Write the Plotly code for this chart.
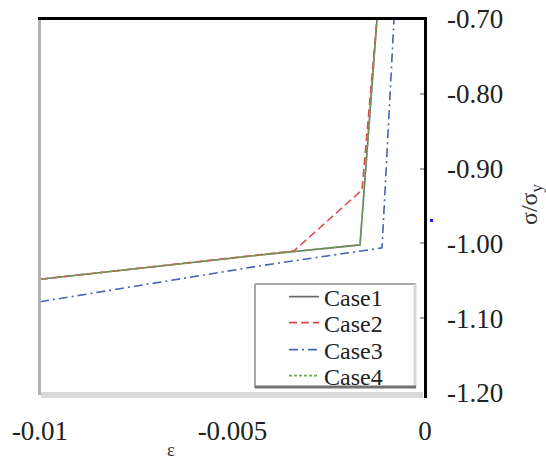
import plotly.graph_objects as go

# ---- data ----
case_names = ["Case1", "Case2", "Case3", "Case4"]

case1_eps = [-0.01, -0.004286, -0.001688, -0.001247]
case1_sig = [-1.048, -1.0155, -1.002, -0.70]

case2_eps = [-0.01, -0.004286, -0.003403, -0.001636, -0.001247]
case2_sig = [-1.048, -1.0155, -1.010, -0.9286, -0.70]

case3_eps = [-0.01, -0.004286, -0.001117, -0.000805]
case3_sig = [-1.078, -1.030, -1.006, -0.70]

case4_eps = [-0.01, -0.004286, -0.001688, -0.001247]
case4_sig = [-1.048, -1.0155, -1.002, -0.70]

x_tickvals = [-0.01, -0.005, 0]
x_ticktext = ["-0.01", "-0.005", "0"]
y_tickvals = [-0.70, -0.80, -0.90, -1.00, -1.10, -1.20]
y_ticktext = ["-0.70", "-0.80", "-0.90", "-1.00", "-1.10", "-1.20"]

# ---- layout geometry (pixels) ----
W, H = 546, 463
PL, PR, PT, PB = 40, 425, 19, 393


def px_x(px):
    return (px - PL) / (PR - PL)


def px_y(py):
    return (PB - py) / (PB - PT)


FONT = "Liberation Serif, Times New Roman, serif"

series = [
    (case1_eps, case1_sig, "#6e6e6e", "solid", "legend"),
    (case2_eps, case2_sig, "#dc4c4c", "8px,4px", "legend2"),
    (case3_eps, case3_sig, "#4862b4", "9px,4px,2px,4px", "legend3"),
    (case4_eps, case4_sig, "#6aa84f", "3px,2px", "legend4"),
]

fig = go.Figure()
for name, (xs, ys, col, dash, lg) in zip(case_names, series):
    fig.add_trace(go.Scatter(
        x=xs, y=ys, mode="lines", name=name, legend=lg,
        line=dict(color=col, width=1.6, dash=dash),
    ))

row_y = [297, 323, 350, 376]
leg_common = dict(
    xanchor="left", yanchor="middle", bgcolor="rgba(0,0,0,0)",
    borderwidth=0, font=dict(family=FONT, size=24, color="#222"),
    itemwidth=30,
)
legends = {}
for i, ry in enumerate(row_y):
    key = "legend" if i == 0 else f"legend{i+1}"
    legends[key] = dict(x=px_x(284), y=px_y(ry), **leg_common)

shapes = []
# legend box
shapes.append(dict(type="rect", xref="paper", yref="paper",
                   x0=px_x(255), x1=px_x(416), y0=px_y(387), y1=px_y(284),
                   fillcolor="white", line=dict(width=0), layer="below"))
shapes.append(dict(type="line", xref="paper", yref="paper",
                   x0=px_x(255), x1=px_x(416), y0=px_y(284), y1=px_y(284),
                   line=dict(color="#a8a8a8", width=2)))
shapes.append(dict(type="line", xref="paper", yref="paper",
                   x0=px_x(255), x1=px_x(255), y0=px_y(284), y1=px_y(388),
                   line=dict(color="#a8a8a8", width=2)))
shapes.append(dict(type="line", xref="paper", yref="paper",
                   x0=px_x(415), x1=px_x(415), y0=px_y(284), y1=px_y(388),
                   line=dict(color="#d6d6d6", width=3)))
shapes.append(dict(type="line", xref="paper", yref="paper",
                   x0=px_x(255), x1=px_x(416), y0=px_y(387), y1=px_y(387),
                   line=dict(color="#737373", width=3)))
# plot borders
shapes.append(dict(type="line", xref="paper", yref="paper",
                   x0=px_x(41), x1=px_x(423), y0=px_y(395), y1=px_y(395),
                   line=dict(color="#d9d9d9", width=6)))
shapes.append(dict(type="line", xref="paper", yref="paper",
                   x0=px_x(39.5), x1=px_x(39.5), y0=px_y(395), y1=px_y(19),
                   line=dict(color="#b3b3b3", width=3)))
shapes.append(dict(type="line", xref="paper", yref="paper",
                   x0=px_x(38), x1=px_x(427), y0=px_y(18.5), y1=px_y(18.5),
                   line=dict(color="black", width=3)))
shapes.append(dict(type="line", xref="paper", yref="paper",
                   x0=px_x(425.5), x1=px_x(425.5), y0=px_y(398), y1=px_y(17),
                   line=dict(color="black", width=3)))
# small blue speck right of the plot
shapes.append(dict(type="rect", xref="paper", yref="paper",
                   x0=px_x(430), x1=px_x(433), y0=px_y(222), y1=px_y(219),
                   fillcolor="#1a1aff", line=dict(width=0)))

annotations = [
    dict(text="ε", xref="paper", yref="paper", x=px_x(171), y=px_y(450),
         showarrow=False, font=dict(family=FONT, size=18, color="#333"),
         xanchor="center", yanchor="middle"),
    dict(text="σ/σ<sub>y</sub>", xref="paper", yref="paper",
         x=px_x(531), y=px_y(204), textangle=-90, showarrow=False,
         font=dict(family=FONT, size=24, color="#333"),
         xanchor="center", yanchor="middle"),
]

fig.update_layout(
    template="none",
    width=W, height=H,
    margin=dict(l=PL, r=W - PR, t=PT, b=H - PB, pad=0),
    paper_bgcolor="white", plot_bgcolor="white",
    showlegend=True,
    shapes=shapes, annotations=annotations,
    xaxis=dict(range=[-0.01, 0], tickvals=x_tickvals, ticktext=x_ticktext,
               showgrid=False, zeroline=False, showline=False, ticks="",
               automargin=False, ticklabelstandoff=19,
               tickfont=dict(family=FONT, size=27, color="#222")),
    yaxis=dict(range=[-1.2, -0.7], side="right", tickvals=y_tickvals,
               ticktext=y_ticktext, showgrid=False, zeroline=False,
               showline=False, ticks="inside", ticklen=5, tickwidth=2,
               tickcolor="#a6a6a6", ticklabelstandoff=21, automargin=False,
               tickfont=dict(family=FONT, size=27, color="#222")),
    **legends,
)

fig.write_html(
    "out.html",
    config={"displayModeBar": False},
    post_script="document.body.style.margin='0';document.body.style.padding='0';",
)
